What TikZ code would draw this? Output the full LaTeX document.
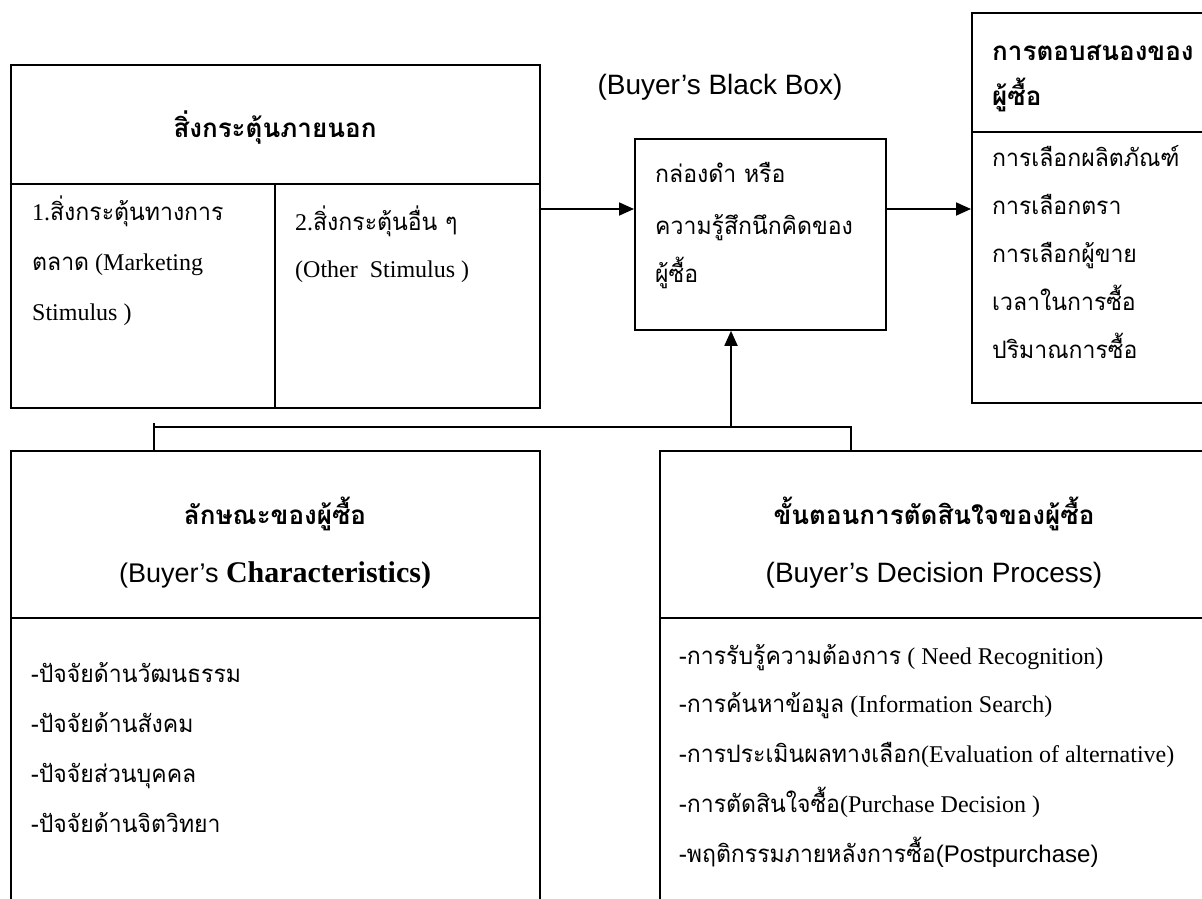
\documentclass[tikz,border=0pt]{standalone}
\usepackage{fontspec}
\setmainfont{Liberation Serif}
\setsansfont{Liberation Sans}
\newfontfamily\thai[Script=Thai,FakeStretch=0.96]{Loma}
\newfontfamily\thaiB[Script=Thai]{Loma}
\usetikzlibrary{arrows.meta}

\begin{document}
\begin{tikzpicture}[x=1pt, y=-1pt, font=\fontsize{24}{29}\selectfont,
  box/.style={draw, line width=1.8pt, inner sep=0pt, anchor=north west},
  arr/.style={line width=1.8pt, -{Triangle[length=15pt,width=13pt]}},
  txt/.style={anchor=base west, inner sep=0pt},
  th/.style={txt, font=\fontsize{24}{29}\selectfont\thai},
  ttl/.style={anchor=base, inner sep=0pt, font=\fontsize{26}{30}\selectfont\thaiB\bfseries},
  eng/.style={anchor=base, inner sep=0pt, font=\fontsize{28}{32}\selectfont\sffamily}]

\useasboundingbox (0,0) rectangle (1202,899);
\clip (0,0) rectangle (1202,899);

\node[box, minimum width=529pt, minimum height=343pt] (ext) at (10,64) {};
\node[box, minimum width=251pt, minimum height=191pt] (bbox) at (634,138) {};
\node[box, minimum width=270pt, minimum height=390pt] (resp) at (971,12) {};
\node[box, minimum width=529pt, minimum height=480pt] (chr) at (10,450) {};
\node[box, minimum width=580pt, minimum height=480pt] (dec) at (659,450) {};

\draw[line width=1.8pt] (10,184) -- (539,184) (275,184) -- (275,407);
\draw[line width=1.8pt] (971,132) -- (1241,132);
\draw[line width=1.8pt] (10,618) -- (539,618) (659,618) -- (1239,618);

\node[ttl] (extT) at (275,137) {สิ่งกระตุ้นภายนอก};
\node[txt] (m1) at (32,220) {1.{\thai สิ่งกระตุ้นทางการ}};
\node[txt] (m2) at (32,270) {{\thai ตลาด} (Marketing};
\node[txt] (m3) at (32,320) {Stimulus )};
\node[txt] (o1) at (295,230) {2.{\thai สิ่งกระตุ้นอื่น ๆ}};
\node[txt] (o2) at (295,277) {(Other\ \ Stimulus )};

\node[eng] (bbT) at (720,95) {(Buyer’s Black Box)};
\node[th] (bb1) at (655,182) {กล่องดำ หรือ};
\node[th] (bb2) at (655,234) {ความรู้สึกนึกคิดของ};
\node[th] (bb3) at (655,282) {ผู้ซื้อ};

\node[ttl, anchor=base west] (respT1) at (992,60) {การตอบสนองของ};
\node[ttl, anchor=base west] (respT2) at (992,106) {ผู้ซื้อ};
\node[th] (r1) at (992,166) {การเลือกผลิตภัณฑ์};
\node[th] (r2) at (992,214) {การเลือกตรา};
\node[th] (r3) at (992,262) {การเลือกผู้ขาย};
\node[th] (r4) at (992,310) {เวลาในการซื้อ};
\node[th] (r5) at (992,358) {ปริมาณการซื้อ};

\node[ttl] (chrT) at (275,524) {ลักษณะของผู้ซื้อ};
\node[eng, font=\fontsize{27}{32}\selectfont\sffamily] (chrE) at (275,582) {(Buyer’s {\rmfamily\bfseries\fontsize{30}{34}\selectfont Characteristics)}};
\node[th] (c1) at (31,682) {-ปัจจัยด้านวัฒนธรรม};
\node[th] (c2) at (31,732) {-ปัจจัยด้านสังคม};
\node[th] (c3) at (31,782) {-ปัจจัยส่วนบุคคล};
\node[th] (c4) at (31,832) {-ปัจจัยด้านจิตวิทยา};

\node[ttl] (decT) at (934,524) {ขั้นตอนการตัดสินใจของผู้ซื้อ};
\node[eng] (decE) at (934,582) {(Buyer’s Decision Process)};
\node[txt] (d1) at (679,664) {{\thai -การรับรู้ความต้องการ} ( Need Recognition)};
\node[txt] (d2) at (679,712) {{\thai -การค้นหาข้อมูล} (Information Search)};
\node[txt] (d3) at (679,762) {{\thai -การประเมินผลทางเลือก}(Evaluation of alternative)};
\node[txt] (d4) at (679,812) {{\thai -การตัดสินใจซื้อ}(Purchase Decision )};
\node[txt] (d5) at (679,862) {{\thai -พฤติกรรมภายหลังการซื้อ}{\sffamily (Postpurchase)}};

\coordinate (row) at (0,209);
\coordinate (jn) at (731,427);
\coordinate (tick) at (154,423);
\coordinate (cl) at (154,427);
\coordinate (cr) at (851,427);

\draw[arr] (ext.east |- row) -- (bbox.west |- row);
\draw[arr] (bbox.east |- row) -- (resp.west |- row);
\draw[arr] (jn) -- (bbox.south -| jn);
\draw[line width=1.8pt] (chr.north -| tick) -- (tick);
\draw[line width=1.8pt] (cl) -- (cr) -- (dec.north -| cr);

\end{tikzpicture}
\end{document}
